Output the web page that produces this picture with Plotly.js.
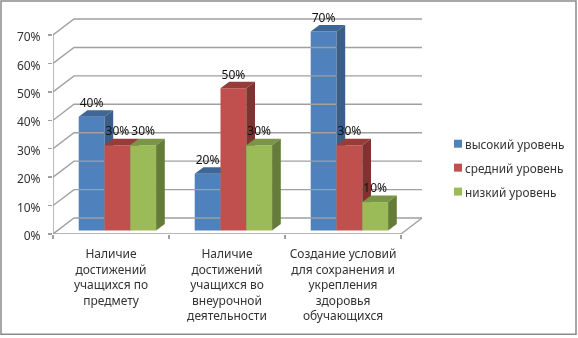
<!DOCTYPE html>
<html><head><meta charset="utf-8">
<script src="https://cdn.plot.ly/plotly-3.0.1.min.js"></script>
<style>html,body{margin:0;padding:0;background:#fff;overflow:hidden}#chart{width:578px;height:338px;filter:blur(0.4px)}</style>
</head><body><div id="chart"></div>
<script>
// data
const categories = ["Наличие<br>достижений<br>учащихся по<br>предмету","Наличие<br>достижений<br>учащихся во<br>внеурочной<br>деятельности","Создание условий<br>для сохранения и<br>укрепления<br>здоровья<br>обучающихся"];
const seriesNames = ["высокий уровень","средний уровень","низкий уровень"];
const high = [40,20,70];
const mid = [30,50,30];
const low = [30,30,10];
const yTicks = [0,10,20,30,40,50,60,70];
// styles
const frontColors = ["#4F81BD","#C0504D","#9BBB59"];
const topColors = ["#3E6696","#973C39","#7A9546"];
const sideColors = ["#3A5E88","#7F3331","#657C39"];
const FONT = '"Noto Sans", sans-serif';
const W=578,H=338,L=53,R=424,T=15,B=234.5;
const PX=116, PY=2.85;               // px per category / per percent
const wallDx=21/PX, wallDy=16/PY;    // side wall depth
const barW=25.8/PX, sideDx=8.7/PX, sideDy=6.5/PY, base=3.5/PY, firstBar=25.7/PX;
const xRange=[0,(R-L)/PX], yRange=[0,(B-T)/PY];
const values=[high,mid,low];
const GRID='#A0A0A0';
const traces=[];
// walls and floor
const gx=[],gy=[];
yTicks.forEach(v=>{gx.push(0,wallDx,3+wallDx,null);gy.push(v,v+wallDy,v+wallDy,null);});
gx.push(0,3,3+wallDx,null);gy.push(0,0,wallDy,null);
traces.push({type:'scatter',mode:'lines',x:gx,y:gy,line:{color:GRID,width:1.4},hoverinfo:'skip',showlegend:false,xaxis:'x',yaxis:'y'});
traces.push({type:'scatter',mode:'lines',x:[0,0],y:[0,70],line:{color:GRID,width:1.4},hoverinfo:'skip',showlegend:false,xaxis:'x',yaxis:'y'});
// bars, one overlay per series so each covers the previous one
values.forEach((vals,s)=>{
  const ax=s===0?'':String(s+1);
  const xa='x'+ax, ya='y'+ax;
  const lefts=vals.map((_,i)=>i+firstBar+s*barW);
  traces.push({type:'bar',x:lefts.map(l=>l+barW/2),y:vals,base:vals.map(()=>base),width:barW,
    marker:{color:frontColors[s],line:{width:0}},name:seriesNames[s],showlegend:false,xaxis:xa,yaxis:ya,hoverinfo:'skip'});
  vals.forEach((v,i)=>{
    const l=lefts[i], r=l+barW, t=v+base;
    traces.push({type:'scatter',mode:'lines',fill:'toself',fillcolor:topColors[s],line:{width:0},
      x:[l,r,r+sideDx,l+sideDx,l],y:[t,t,t+sideDy,t+sideDy,t],hoverinfo:'skip',showlegend:false,xaxis:xa,yaxis:ya});
    traces.push({type:'scatter',mode:'lines',fill:'toself',fillcolor:sideColors[s],line:{width:0},
      x:[r,r+sideDx,r+sideDx,r,r],y:[base,base+sideDy,t+sideDy,t,base],hoverinfo:'skip',showlegend:false,xaxis:xa,yaxis:ya});
  });
});
// data labels on top
values.forEach((vals,s)=>{
  traces.push({type:'scatter',mode:'text',x:vals.map((_,i)=>i+firstBar+s*barW+barW/2),y:vals.map(v=>v+base+12.8/PY),
    text:vals.map(v=>v+'%'),textposition:'middle center',textfont:{family:FONT,size:12,color:'#111111'},cliponaxis:false,
    hoverinfo:'skip',showlegend:false,xaxis:'x3',yaxis:'y3'});
});
// tick marks between categories
traces.push({type:'scatter',mode:'lines',x:[null],y:[null],xaxis:'x4',yaxis:'y',showlegend:false,hoverinfo:'skip'});
const over=(a,y)=>({overlaying:a,range:xRange,visible:false,anchor:y,fixedrange:true,autorange:false});
const overY=(a,x)=>({overlaying:a,range:yRange,visible:false,anchor:x,fixedrange:true,autorange:false});
const px=v=>(v-L)/(R-L), py=v=>(B-v)/(B-T);
const legendY=[144,168,192];
const layout={
  width:W,height:H,margin:{l:L,r:W-R,t:T,b:H-B,pad:0},autosize:false,
  paper_bgcolor:'#fff',plot_bgcolor:'rgba(0,0,0,0)',
  font:{family:FONT,size:12,color:'#333333'},
  barmode:'overlay',showlegend:false,
  xaxis:{range:xRange,autorange:false,tickmode:'array',tickvals:[0.5,1.5,2.5],ticktext:categories,ticks:'',showgrid:false,zeroline:false,showline:false,
    tickangle:0,tickfont:{family:FONT,size:12,color:'#333333'},ticklabelstandoff:11,fixedrange:true},
  yaxis:{range:yRange,autorange:false,tickmode:'array',tickvals:yTicks,ticktext:yTicks.map(v=>v+'%'),ticks:'outside',ticklen:4,tickcolor:GRID,tickwidth:1.4,
    showgrid:false,zeroline:false,showline:false,tickfont:{family:FONT,size:12,color:'#333333'},ticklabelstandoff:5,fixedrange:true},
  xaxis2:over('x','y2'),yaxis2:overY('y','x2'),
  xaxis3:over('x','y3'),yaxis3:overY('y','x3'),
  xaxis4:{overlaying:'x',range:xRange,autorange:false,anchor:'y',tickmode:'array',tickvals:[0,1,2,3],ticktext:['','','',''],ticks:'outside',ticklen:4,tickcolor:GRID,tickwidth:1.4,showgrid:false,zeroline:false,showline:false,fixedrange:true},
  annotations:seriesNames.map((n,s)=>({xref:'paper',yref:'paper',x:px(463.5),y:py(legendY[s]+0.3),xanchor:'left',yanchor:'middle',text:n,showarrow:false,borderpad:0,
    font:{family:FONT,size:11.8,color:'#333333'}})),
  shapes:[{type:'rect',xref:'paper',yref:'paper',layer:'below',
    x0:px(1),x1:px(576),y0:py(335),y1:py(1),line:{color:'#8A8A8A',width:1.5},fillcolor:'rgba(0,0,0,0)'}]
    .concat(seriesNames.map((n,s)=>({type:'rect',xref:'paper',yref:'paper',x0:px(454),x1:px(462),y0:py(legendY[s]+4),y1:py(legendY[s]-4),line:{width:0},fillcolor:frontColors[s]})))
};
Plotly.newPlot('chart',traces,layout,{staticPlot:true,displayModeBar:false}).then(()=>{
  document.querySelectorAll('.ytick text').forEach(t=>t.setAttribute('dy','2'));
});
</script></body></html>
